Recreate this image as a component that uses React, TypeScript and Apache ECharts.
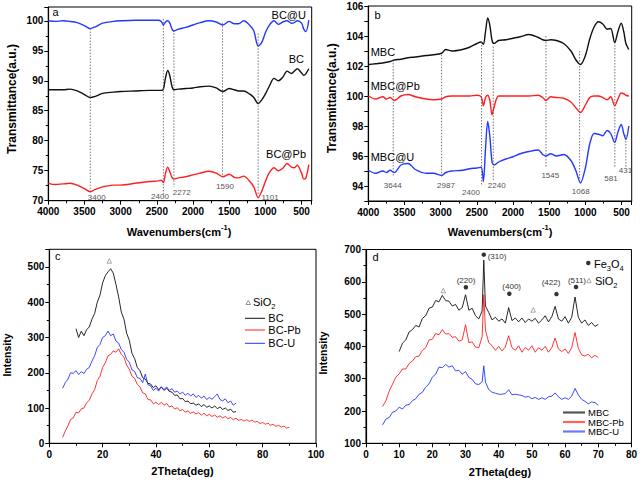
import React, { useEffect, useRef } from "react";
import * as echarts from "echarts";

const FONT = '"Liberation Sans", Arial, Helvetica, sans-serif';
const BLUE = "#2338ff";
const RED = "#ff1f1f";
const BLACK = "#111111";
const GREY = "#555555";

// ---------- Panel a (FTIR) ----------
const ftirAWave = [4000, 3900, 3800, 3700, 3600, 3500, 3420, 3350, 3250, 3100, 3000, 2800, 2600, 2480, 2440, 2410, 2380, 2350, 2320, 2290, 2265, 2200, 2100, 2000, 1900, 1780, 1680, 1590, 1500, 1430, 1370, 1300, 1220, 1160, 1100, 1050, 1000, 950, 880, 820, 760, 700, 640, 600, 560, 500, 470, 440, 400];
const ftirA_BCU = [100.0, 99.9, 100.0, 99.9, 99.7, 99.2, 98.7, 99.0, 99.6, 99.9, 100.0, 100.1, 100.1, 100.1, 99.9, 99.3, 99.8, 100.0, 99.6, 98.6, 98.3, 98.6, 98.9, 99.3, 99.7, 100.0, 99.8, 99.3, 99.9, 99.5, 99.5, 100.0, 99.3, 98.3, 95.8, 96.4, 98.0, 99.2, 100.0, 99.4, 99.8, 100.0, 99.6, 99.7, 100.0, 99.6, 98.6, 98.2, 100.1];
const ftirA_BC = [88.5, 88.5, 88.5, 88.6, 88.3, 87.7, 87.2, 87.4, 87.9, 88.1, 88.2, 88.3, 88.4, 88.4, 88.4, 88.6, 90.5, 91.7, 90.8, 89.0, 88.5, 88.6, 88.7, 88.8, 89.0, 89.1, 88.8, 88.2, 88.7, 88.5, 88.3, 88.3, 87.8, 87.2, 86.2, 86.8, 87.8, 89.0, 90.4, 90.0, 90.6, 91.6, 91.2, 91.6, 92.0, 91.3, 90.9, 91.2, 92.0];
const ftirA_BCPb = [72.9, 72.7, 72.8, 72.9, 72.6, 72.0, 71.5, 71.9, 72.3, 72.6, 72.6, 72.9, 73.2, 73.3, 73.4, 73.0, 74.6, 75.6, 74.8, 73.9, 73.6, 73.8, 74.0, 74.3, 74.6, 74.9, 74.6, 74.0, 74.4, 73.9, 73.8, 74.1, 73.3, 72.3, 70.5, 71.6, 73.2, 74.6, 75.5, 75.0, 75.4, 76.2, 75.6, 75.5, 75.9, 74.6, 73.6, 73.8, 76.0];
const ftirAMarks = [3420, 2410, 2264, 1592, 1100];
const ftirAMarkTop = [98.7, 100.3, 98.4, 99.6, 97.9];
const ftirAMarkBottom = [71.3, 70.7, 72.3, 74.0, 71.0];
const ftirAPeakLabels = ["3400", "2400", "2272", "1590", "1101"];

// ---------- Panel b (FTIR) ----------
const ftirBWave = [4000, 3900, 3800, 3750, 3700, 3640, 3550, 3450, 3350, 3200, 3100, 2987, 2930, 2850, 2700, 2600, 2500, 2440, 2410, 2380, 2350, 2320, 2290, 2260, 2200, 2100, 2000, 1900, 1780, 1650, 1590, 1545, 1480, 1400, 1300, 1200, 1130, 1068, 1000, 940, 880, 820, 760, 700, 650, 595, 550, 505, 470, 440, 400];
const ftirB_MBC = [102.1, 102.15, 102.2, 102.25, 102.3, 102.4, 102.45, 102.55, 102.6, 102.7, 102.75, 102.85, 103.1, 103.0, 103.1, 103.25, 103.5, 103.6, 103.45, 104.3, 105.2, 104.7, 103.7, 103.5, 103.7, 103.75, 103.85, 103.95, 104.1, 103.9, 103.75, 103.7, 103.75, 103.7, 103.5, 103.0, 102.4, 102.1, 102.7, 103.8, 104.6, 104.95, 104.8, 104.45, 104.5, 103.55, 104.3, 104.85, 104.3, 103.5, 103.1];
const ftirB_MBCPb = [100.0, 99.8, 99.95, 99.8, 99.9, 99.7, 100.0, 100.1, 99.95, 99.8, 99.75, 99.8, 99.95, 100.0, 100.0, 100.0, 100.05, 99.95, 99.35, 99.9, 100.05, 99.7, 98.75, 99.3, 100.0, 100.0, 100.0, 100.0, 100.0, 100.05, 99.9, 99.7, 99.95, 99.9, 99.85, 99.6, 99.2, 98.9, 99.4, 99.9, 100.0, 100.0, 99.9, 99.75, 99.95, 99.35, 99.8, 100.2, 100.15, 100.05, 100.0];
const ftirB_MBCU = [95.05, 94.85, 95.0, 94.9, 95.05, 94.9, 95.4, 95.5, 95.1, 94.85, 94.85, 94.7, 94.9, 95.0, 95.05, 95.15, 95.2, 95.25, 94.3, 96.5, 98.3, 97.3, 95.6, 95.4, 95.6, 95.8, 95.95, 96.15, 96.3, 96.4, 96.1, 96.0, 96.15, 96.0, 96.1, 95.7, 95.0, 94.2, 95.2, 96.8, 97.5, 97.45, 97.35, 97.7, 97.5, 96.9, 97.6, 98.1, 97.5, 97.1, 98.0];
const ftirBMarks = [3655, 2987, 2435, 2273, 1545, 1080, 593, 441];
const ftirBMarkTop = [102.4, 102.75, 103.6, 103.3, 104.0, 103.0, 103.6, 97.4];
const ftirBMarkBottom = [94.6, 94.6, 94.0, 94.4, 95.2, 94.4, 95.2, 95.3];
const ftirBPeakLabels = ["3644", "2987", "2400", "2240", "1545", "1068", "581", "431"];

// ---------- Panel c (XRD) ----------
const xrdC_BC = [325, 300, 318, 305, 322, 330, 352, 368, 400, 420, 455, 475, 486, 495, 482, 450, 415, 372, 352, 312, 292, 255, 240, 215, 206, 186, 182, 170, 168, 158, 163, 152, 160, 150, 156, 147, 145, 136, 137, 126, 127, 118, 120, 112, 114, 108, 112, 104, 110, 102, 106, 100, 106, 98, 103, 96, 100, 93, 97, 88, 90];
const xrdC_BCPb = [17, 35, 50, 68, 72, 88, 86, 98, 100, 115, 122, 140, 152, 178, 190, 215, 228, 248, 252, 262, 258, 268, 252, 244, 222, 210, 190, 184, 167, 160, 143, 140, 124, 123, 112, 116, 110, 116, 108, 113, 103, 106, 97, 101, 92, 96, 88, 92, 85, 89, 83, 87, 80, 85, 78, 82, 76, 80, 74, 78, 72, 76, 70, 73, 67, 71, 65, 68, 63, 67, 62, 66, 60, 62, 56, 59, 54, 57, 51, 54, 48, 51, 46, 49, 43, 46];
const xrdC_BCU = [156, 172, 182, 200, 198, 206, 195, 203, 198, 210, 215, 233, 248, 272, 280, 300, 305, 318, 305, 310, 290, 284, 266, 258, 238, 230, 208, 204, 186, 184, 172, 196, 166, 163, 150, 156, 148, 160, 152, 160, 150, 155, 145, 148, 140, 145, 136, 142, 134, 140, 130, 136, 128, 134, 124, 130, 125, 132, 140, 124, 120, 126, 115, 120, 108, 114];
const sio2C = [[22.5, 517]];

// ---------- Panel d (XRD) ----------
const xrdD_MBC = [384, 410, 420, 445, 452, 465, 460, 487, 495, 518, 522, 542, 538, 558, 542, 540, 525, 530, 512, 520, 560, 512, 518, 495, 485, 510, 667, 525, 505, 482, 490, 478, 485, 472, 520, 480, 488, 476, 488, 474, 485, 478, 487, 472, 482, 495, 476, 492, 524, 485, 478, 492, 472, 490, 553, 490, 472, 482, 465, 474, 462, 468];
const xrdD_MBCPb = [214, 232, 262, 283, 305, 315, 330, 330, 347, 355, 368, 370, 388, 396, 420, 422, 440, 436, 452, 438, 440, 428, 430, 416, 420, 467, 412, 414, 398, 396, 430, 560, 450, 412, 402, 388, 400, 386, 398, 433, 396, 388, 402, 382, 396, 388, 402, 382, 396, 388, 400, 382, 396, 426, 392, 384, 392, 378, 396, 443, 394, 374, 370, 376, 365, 372, 366];
const xrdD_MBCU = [157, 175, 180, 196, 200, 212, 206, 218, 220, 232, 238, 252, 258, 274, 284, 305, 314, 336, 334, 344, 336, 340, 324, 326, 314, 322, 304, 298, 284, 282, 290, 340, 290, 266, 258, 255, 252, 252, 254, 266, 250, 252, 250, 248, 243, 245, 238, 242, 236, 241, 236, 244, 246, 256, 244, 236, 241, 236, 246, 270, 250, 236, 230, 222, 228, 226, 218];
const sio2D = [[23.3, 573], [50.4, 513], [67.2, 604]];
const fe3o4D = [[35.5, 684], [30.1, 583], [43.2, 563], [57.4, 562], [63.3, 584], [67.0, 658]];
const peakLabelsD = ["(310)", "(220)", "(400)", "(422)", "(511)"];

const range = (a: number, b: number) => {
  const r: number[] = [];
  for (let v = a; v <= b; v++) r.push(v);
  return r;
};
const thetaC_BC = range(10, 70);
const thetaC_BCPb = range(5, 90);
const thetaC_BCU = range(5, 70);
const thetaD = [...range(5, 35), 35.5, ...range(36, 70)];
const thetaD_MBC = thetaD.slice(5);

const pairs = (xs: number[], ys: number[], neg = false) => xs.map((x, i) => [neg ? -x : x, ys[i]]);

const line = (ax: number, data: any[], color: string, width: number, smooth: any = false, extra: any = {}) => ({
  type: "line",
  xAxisIndex: ax,
  yAxisIndex: ax,
  data,
  showSymbol: false,
  symbol: "none",
  smooth,
  silent: true,
  lineStyle: { color, width, ...extra },
  itemStyle: { color },
});

const axisCommon = (gridIndex: number) => ({
  gridIndex,
  type: "value",
  axisLine: { show: true, onZero: false, lineStyle: { color: "#000", width: 1.2 } },
  axisTick: { show: true, inside: false, length: 4, lineStyle: { color: "#000", width: 1 } },
  minorTick: { show: true, splitNumber: 2, length: 2.5, lineStyle: { color: "#000", width: 1 } },
  splitLine: { show: false },
  minorSplitLine: { show: false },
});
const lbl = (formatter: any, margin = 5) => ({
  color: "#000",
  fontFamily: FONT,
  fontWeight: "bold",
  fontSize: 10,
  margin,
  formatter,
});

const txt = (x: number, y: number, text: string, o: any = {}) => ({
  type: "text",
  x,
  y,
  rotation: o.rotation || 0,
  silent: true,
  z: 100,
  style: {
    text,
    fontFamily: FONT,
    fontSize: o.size || 11,
    fontWeight: o.weight || "normal",
    fill: o.color || "#000",
    align: o.align || "left",
    verticalAlign: "middle",
    rich: o.rich,
  },
});
const gline = (x1: number, y1: number, x2: number, y2: number, stroke: string, w = 1) => ({
  type: "line",
  silent: true,
  z: 100,
  shape: { x1, y1, x2, y2 },
  style: { stroke, lineWidth: w },
});

const supRich = (size: number) => ({
  m: { fontFamily: FONT, fontWeight: "bold", fontSize: size, lineHeight: 14, verticalAlign: "bottom" },
  s: { fontFamily: FONT, fontWeight: "bold", fontSize: 7.5, lineHeight: 8, verticalAlign: "top" },
});
const subRich = {
  n: { fontFamily: FONT, fontSize: 11, lineHeight: 14, verticalAlign: "top" },
  u: { fontFamily: FONT, fontSize: 7.5, lineHeight: 8, verticalAlign: "bottom" },
};

const triStyle = { color: "#ffffff", borderColor: "#777", borderWidth: 0.8 };

const buildOption = () => {
  const series: any[] = [];
  // panel a
  series.push(line(0, pairs(ftirAWave, ftirA_BCU, true), BLUE, 1.4, 0.3));
  series.push(line(0, pairs(ftirAWave, ftirA_BC, true), BLACK, 1.4, 0.3));
  series.push(line(0, pairs(ftirAWave, ftirA_BCPb, true), RED, 1.4, 0.3));
  ftirAMarks.forEach((w, i) =>
    series.push(line(0, [[-w, ftirAMarkTop[i]], [-w, ftirAMarkBottom[i]]], GREY, 0.8, false, { type: [1.5, 1.5] }))
  );
  // panel b
  series.push(line(1, pairs(ftirBWave, ftirB_MBC, true), BLACK, 1.4, 0.3));
  series.push(line(1, pairs(ftirBWave, ftirB_MBCPb, true), RED, 1.4, 0.3));
  series.push(line(1, pairs(ftirBWave, ftirB_MBCU, true), BLUE, 1.4, 0.3));
  ftirBMarks.forEach((w, i) =>
    series.push(line(1, [[-w, ftirBMarkTop[i]], [-w, ftirBMarkBottom[i]]], GREY, 0.8, false, { type: [1.5, 1.5] }))
  );
  // panel c
  series.push(line(2, pairs(thetaC_BCPb, xrdC_BCPb), RED, 0.9));
  series.push(line(2, pairs(thetaC_BC, xrdC_BC), BLACK, 0.9));
  series.push(line(2, pairs(thetaC_BCU, xrdC_BCU), BLUE, 0.9));
  series.push({
    type: "scatter", xAxisIndex: 2, yAxisIndex: 2, data: sio2C, symbol: "triangle", symbolSize: 4.5,
    itemStyle: triStyle, silent: true, z: 5,
  });
  // panel d
  series.push(line(3, pairs(thetaD_MBC, xrdD_MBC), BLACK, 0.9));
  series.push(line(3, pairs(thetaD, xrdD_MBCPb), RED, 0.9));
  series.push(line(3, pairs(thetaD, xrdD_MBCU), BLUE, 0.9));
  series.push({
    type: "scatter", xAxisIndex: 3, yAxisIndex: 3, data: sio2D, symbol: "triangle", symbolSize: 4.5,
    itemStyle: triStyle, silent: true, z: 5,
  });
  series.push({
    type: "scatter", xAxisIndex: 3, yAxisIndex: 3, data: fe3o4D, symbol: "circle", symbolSize: 4.5,
    itemStyle: { color: "#000" }, silent: true, z: 5,
  });

  const peakA: [number, number][] = [[96.7, 197.3], [160, 196], [181.7, 192.7], [225, 186.7], [270, 197.3]];
  const peakB: [number, number][] = [[392.7, 185.7], [446, 185.7], [471, 192.7], [496.7, 185.7], [550.3, 175.3], [580.7, 191.7], [611, 178.3], [625.5, 170]];
  const peakD: [number, number][] = [[497, 256], [466, 280.7], [511.7, 286.7], [551, 282.7], [577, 280.7]];

  const graphic: any[] = [
    // panel letters
    txt(52.5, 12.3, "a"),
    txt(374.5, 15, "b"),
    txt(55, 256, "c"),
    txt(372.5, 256.7, "d"),
    // series labels a
    txt(306, 15, "BC@U", { align: "right" }),
    txt(304, 59.3, "BC", { align: "right" }),
    txt(306, 154, "BC@Pb", { align: "right" }),
    // series labels b
    txt(370.7, 51.7, "MBC"),
    txt(370.7, 86, "MBC@Pb"),
    txt(370.7, 157, "MBC@U"),
    // axis names
    txt(179, 230, "{m|Wavenumbers(cm}{s|-1}{m|)}", { align: "center", rich: supRich(11) }),
    txt(500, 230, "{m|Wavenumbers(cm}{s|-1}{m|)}", { align: "center", rich: supRich(11) }),
    txt(12, 99, "Transmittance(a.u.)", { align: "center", weight: "bold", size: 12, rotation: Math.PI / 2 }),
    txt(332, 98.3, "Transmittance(a.u.)", { align: "center", weight: "bold", size: 12, rotation: Math.PI / 2 }),
    txt(6.5, 355, "Intensity", { align: "center", weight: "bold", size: 10.5, rotation: Math.PI / 2 }),
    txt(323, 353, "Intensity", { align: "center", weight: "bold", size: 10.5, rotation: Math.PI / 2 }),
    txt(182.5, 470.5, "2Theta(deg)", { align: "center", weight: "bold", size: 11 }),
    txt(500, 471.7, "2Theta(deg)", { align: "center", weight: "bold", size: 11 }),
    // legend c
    { type: "polygon", silent: true, z: 100, shape: { points: [[248.3, 300.5], [246, 304.5], [250.6, 304.5]] }, style: { fill: "#fff", stroke: "#777", lineWidth: 0.8 } },
    txt(253, 303.5, "{n|SiO}{u|2}", { rich: subRich }),
    gline(245, 318.3, 265, 318.3, BLACK, 1),
    gline(245, 330, 265, 330, RED, 1),
    gline(245, 343.3, 265, 343.3, BLUE, 1),
    txt(268.3, 318.3, "BC"),
    txt(268.3, 330, "BC-Pb"),
    txt(268.3, 343.3, "BC-U"),
    // legend d
    txt(594, 265, "{n|Fe}{u|3}{n|O}{u|4}", { rich: subRich }),
    txt(595, 282.7, "{n|SiO}{u|2}", { rich: subRich }),
    gline(563, 412.5, 585, 412.5, "#555", 2.2),
    gline(563, 422, 585, 422, "#ff6060", 2.2),
    gline(563, 431.5, 585, 431.5, "#6a78ff", 2.2),
    txt(588, 412.5, "MBC", { size: 9.5 }),
    txt(588, 422, "MBC-Pb", { size: 9.5 }),
    txt(588, 431.5, "MBC-U", { size: 9.5 }),
  ];
  ftirAPeakLabels.forEach((t, i) => graphic.push(txt(peakA[i][0], peakA[i][1], t, { align: "center", size: 8, color: GREY })));
  ftirBPeakLabels.forEach((t, i) => graphic.push(txt(peakB[i][0], peakB[i][1], t, { align: "center", size: 8, color: GREY })));
  peakLabelsD.forEach((t, i) => graphic.push(txt(peakD[i][0], peakD[i][1], t, { align: "center", size: 8, color: "#333" })));

  const wnFmt = (v: number) => (Math.round(v) % 500 === 0 ? String(-v) : "");

  return {
    animation: false,
    backgroundColor: "#ffffff",
    grid: [
      { left: 48.3, top: 7, width: 263.4, height: 193.7, show: true, borderColor: "#000", borderWidth: 1, containLabel: false },
      { left: 368.3, top: 6, width: 263.4, height: 195, show: true, borderColor: "#000", borderWidth: 1, containLabel: false },
      { left: 49.3, top: 249.3, width: 266.7, height: 194, show: true, borderColor: "#000", borderWidth: 1, containLabel: false },
      { left: 366, top: 249.5, width: 265.7, height: 193.8, show: true, borderColor: "#000", borderWidth: 1, containLabel: false },
    ],
    xAxis: [
      { ...axisCommon(0), min: -4000, max: -360, interval: 500, axisLabel: lbl(wnFmt, 6) },
      { ...axisCommon(1), min: -4000, max: -360, interval: 500, axisLabel: lbl(wnFmt, 6) },
      { ...axisCommon(2), min: 0, max: 100, interval: 20, axisLabel: lbl((v: number) => String(v), 6) },
      { ...axisCommon(3), min: 0, max: 80, interval: 10, axisLabel: lbl((v: number) => String(v), 6) },
    ],
    yAxis: [
      { ...axisCommon(0), min: 70, max: 102.3, interval: 5, axisLabel: lbl((v: number) => (v % 5 === 0 ? String(v) : "")) },
      { ...axisCommon(1), min: 93, max: 106, interval: 1, minorTick: { show: false }, axisLabel: lbl((v: number) => (Math.round(v) % 2 === 0 ? String(v) : "")) },
      { ...axisCommon(2), min: 0, max: 550, interval: 100, axisLabel: lbl((v: number) => (v % 100 === 0 ? String(v) : "")) },
      { ...axisCommon(3), min: 100, max: 700, interval: 100, axisLabel: lbl((v: number) => String(v)) },
    ],
    series,
    graphic,
  };
};

export default function App() {
  const ref = useRef<HTMLDivElement>(null);
  useEffect(() => {
    if (!ref.current) return;
    const chart = echarts.init(ref.current, null, { renderer: "svg" });
    chart.setOption(buildOption() as any);
    return () => chart.dispose();
  }, []);
  return (
    <div
      ref={ref}
      style={{ position: "fixed", left: 0, top: 0, width: 640, height: 481, background: "#fff" }}
    />
  );
}
